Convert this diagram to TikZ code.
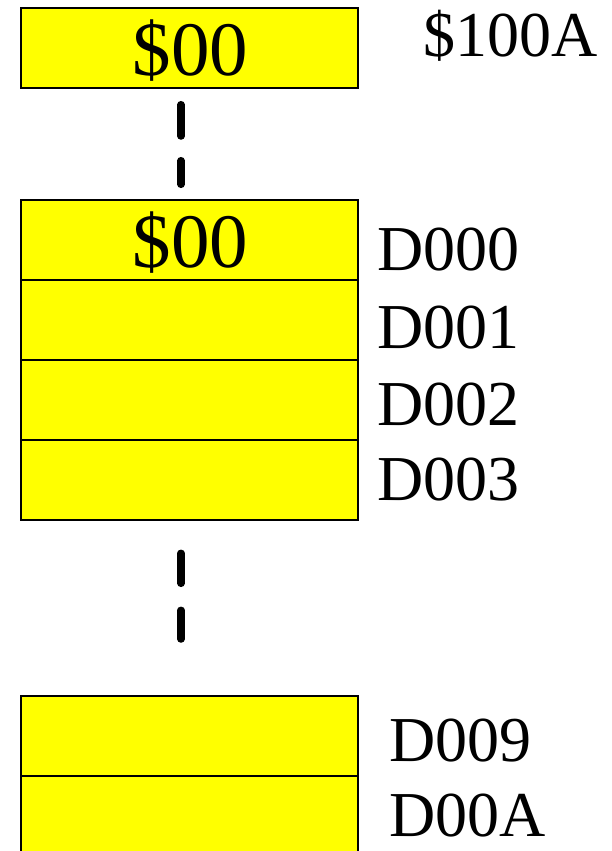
\documentclass[tikz,border=0pt]{standalone}
\usepackage{fontspec}
\setmainfont{Liberation Serif}
\definecolor{cellyellow}{RGB}{255,255,0}
\tikzset{
  cell/.style={draw=black, fill=cellyellow, line width=2bp, rectangle,
    minimum width=336.4bp, minimum height=80bp, inner sep=0pt, outer sep=0pt},
  addr/.style={anchor=base west, inner sep=0pt, font=\fontsize{64bp}{70bp}\selectfont},
  val/.style={anchor=base, inner sep=0pt, font=\fontsize{77bp}{80bp}\selectfont},
  gapline/.style={line width=7.5bp, line cap=round, black}
}
\begin{document}
\begin{tikzpicture}[x=1bp, y=-1bp]
\useasboundingbox (0,0) rectangle (612,851);
% top cell
\node[cell] (top) at (189.5,48.3) {};
\node[val] (topv) at (190.5,75.8) {\$00};
\node[addr] (topa) at (423,56.7) {\$100A};
% middle group
\node[cell] (g0) at (189.5,240.3) {};
\node[cell] (g1) at (189.5,320.3) {};
\node[cell] (g2) at (189.5,400.3) {};
\node[cell] (g3) at (189.5,480.3) {};
\node[val] (g0v) at (190.5,267.5) {\$00};
\node[addr] (l0) at (377,270.7) {D000};
\node[addr] (l1) at (377,348.3) {D001};
\node[addr] (l2) at (377,425) {D002};
\node[addr] (l3) at (377,500) {D003};
% bottom group
\node[cell] (b9) at (189.5,736) {};
\node[cell] (bA) at (189.5,816) {};
\node[addr] (l9) at (389.5,761) {D009};
\node[addr] (lA) at (389.5,836.7) {D00A};
% gaps
\draw[gapline, dash pattern=on 31.3bp off 24.7bp on 23.6bp off 200bp,
  shorten <=16.4bp, shorten >=15.7bp] ([xshift=-8.5bp]top.south) -- ([xshift=-8.5bp]g0.north);
\draw[gapline, dash pattern=on 30bp off 27bp on 29bp off 200bp,
  shorten <=33bp, shorten >=57bp] ([xshift=-8.5bp]g3.south) -- ([xshift=-8.5bp]b9.north);
\end{tikzpicture}
\end{document}
